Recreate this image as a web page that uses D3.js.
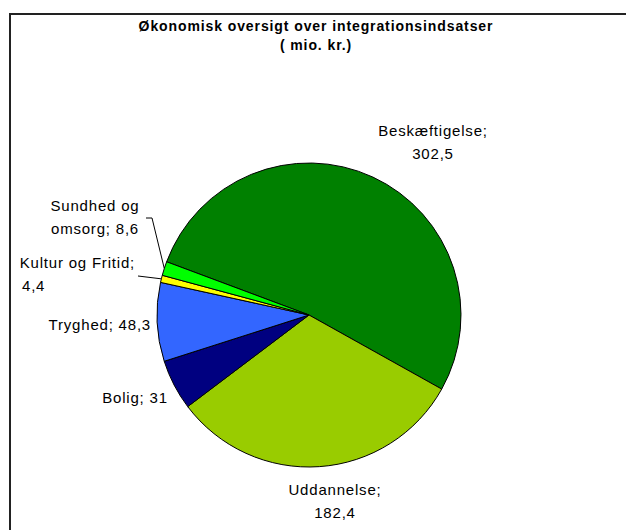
<!DOCTYPE html>
<html>
<head>
<meta charset="utf-8">
<script src="https://cdn.jsdelivr.net/npm/d3@7/dist/d3.min.js"></script>
<style>
  html, body { margin: 0; padding: 0; background: #fff; }
  svg { display: block; font-family: 'Liberation Sans', Arial, sans-serif; }
</style>
</head>
<body>
<svg id="chart" width="626" height="530"></svg>
<script>
// chart data
const categories = ['Beskæftigelse', 'Uddannelse', 'Bolig', 'Tryghed', 'Kultur og Fritid', 'Sundhed og omsorg']
const values = [302.5, 182.4, 31, 48.3, 4.4, 8.6]
const valueLabels = ['302,5', '182,4', '31', '48,3', '4,4', '8,6']
const titleLines = ['Økonomisk oversigt over integrationsindsatser', '( mio. kr.)']

const colors = ['#008000', '#99cc00', '#000080', '#3366ff', '#ffff00', '#00ff00']

// label layout (hand placed like the original)
const labelLines = [
  ['Beskæftigelse;', valueLabels[0]],
  ['Uddannelse;', valueLabels[1]],
  ['Bolig; ' + valueLabels[2]],
  ['Tryghed; ' + valueLabels[3]],
  ['Kultur og Fritid;', valueLabels[4]],
  ['Sundhed og', 'omsorg; ' + valueLabels[5]]
]
const labelPos = [
  { x: 433, y: 136, anchor: 'middle' },
  { x: 335, y: 495, anchor: 'middle' },
  { x: 135, y: 403, anchor: 'middle' },
  { x: 151, y: 330, anchor: 'end' },
  { x: 135, y: 268, anchor: 'end', second: { x: 22, anchor: 'start' } },
  { x: 95, y: 211, anchor: 'middle' }
]

const width = 626
const height = 530
const cx = 309
const cy = 315
const radius = 152
const start = -69.5 * Math.PI / 180

var svg = d3.select('#chart')

// frame (cut off at right and bottom like the source)
svg.append('rect')
  .attr('x', 10)
  .attr('y', 14)
  .attr('width', width + 20)
  .attr('height', height + 20)
  .attr('fill', 'none')
  .attr('stroke', '#222')
  .attr('stroke-width', 2)

svg.append('g')
  .selectAll('text')
  .data(titleLines)
  .enter()
  .append('text')
  .attr('x', 316)
  .attr('y', function(d, i) { return 31 + i * 19 })
  .attr('text-anchor', 'middle')
  .style('font-size', '14px')
  .style('font-weight', 'bold')
  .style('letter-spacing', '0.9px')
  .text(function(d) { return d })

var pie = d3.pie()
  .sort(null)
  .startAngle(start)
  .endAngle(start + 2 * Math.PI)
  .value(function(d) { return d })

var path = d3.arc()
  .innerRadius(0)
  .outerRadius(radius)

var g = svg.append('g')
  .attr('transform', 'translate(' + cx + ',' + cy + ')')

var arcs = pie(values)

g.selectAll('.arc')
  .data(arcs)
  .enter()
  .append('path')
  .attr('class', 'arc')
  .attr('d', path)
  .attr('fill', function(d, i) { return colors[i] })
  .attr('stroke', '#000')
  .attr('stroke-width', 1)
  .attr('stroke-linejoin', 'round')

// leader lines for the two thin slices
var outer = d3.arc().innerRadius(radius).outerRadius(radius)
var p5 = outer.centroid(arcs[5])
var p4 = outer.centroid(arcs[4])
var leaders = [
  [[p5[0] + cx, p5[1] + cy], [152, 218], [146, 218]],
  [[p4[0] + cx, p4[1] + cy], [138, 276]]
]
svg.selectAll('.leader')
  .data(leaders)
  .enter()
  .append('path')
  .attr('class', 'leader')
  .attr('d', d3.line())
  .attr('fill', 'none')
  .attr('stroke', '#000')
  .attr('stroke-width', 1)

var labels = svg.append('g')
  .style('font-size', '15px')
  .style('letter-spacing', '0.8px')
  .attr('fill', '#000')

labelLines.forEach(function(lines, i) {
  var pos = labelPos[i]
  lines.forEach(function(line, j) {
    var p = j === 1 && pos.second ? pos.second : pos
    labels.append('text')
      .attr('x', p.x)
      .attr('y', pos.y + j * 23)
      .attr('text-anchor', p.anchor)
      .text(line)
  })
})
</script>
</body>
</html>
